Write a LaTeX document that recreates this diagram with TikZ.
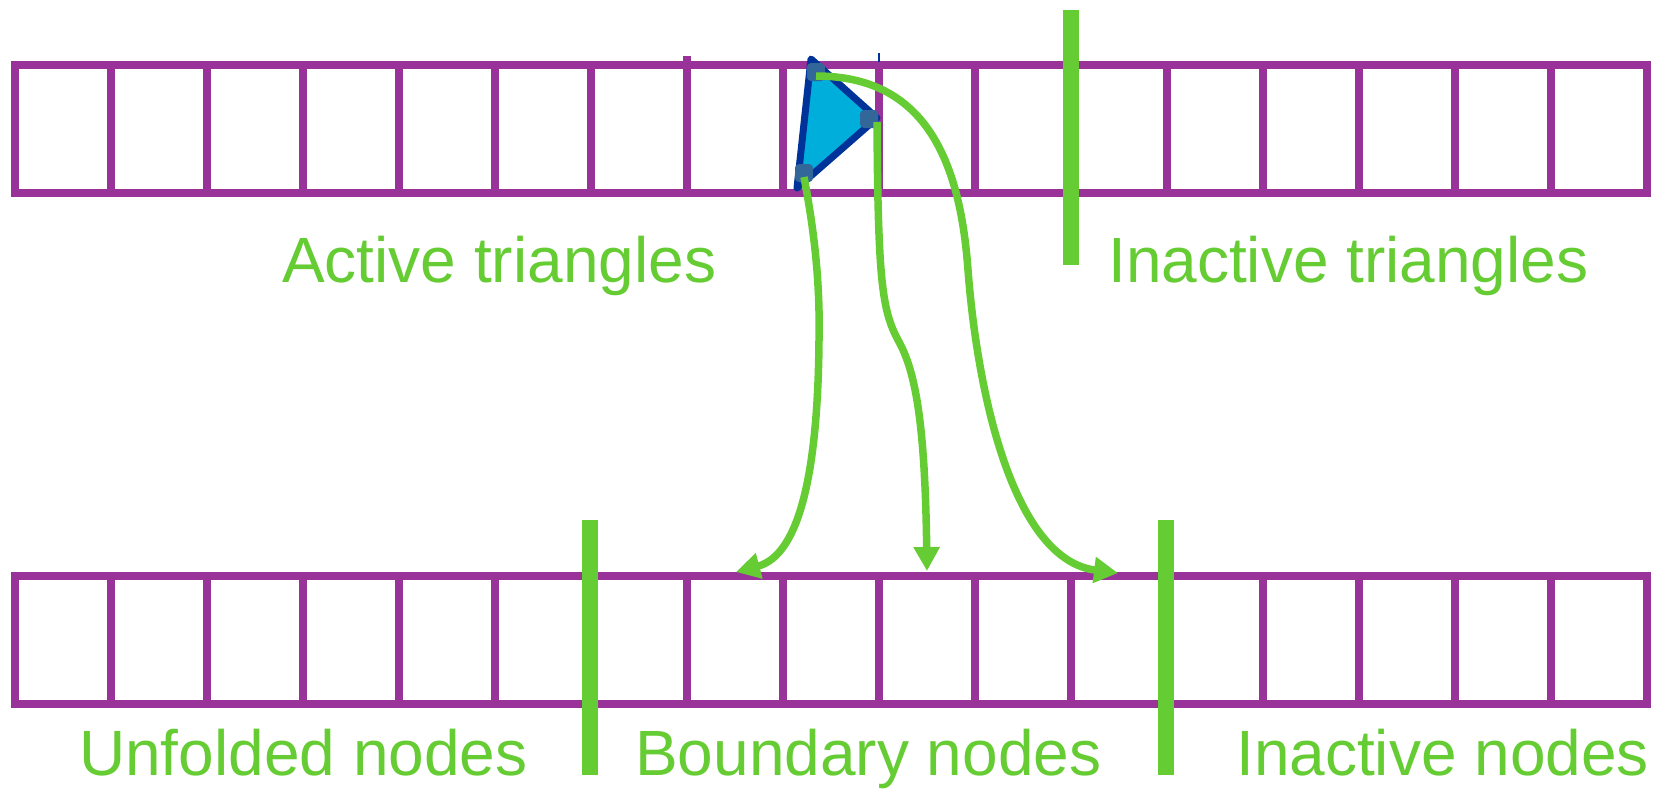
\documentclass[tikz,border=0pt]{standalone}
\usepackage{fontspec}
\setmainfont{Liberation Sans}
\usetikzlibrary{arrows.meta}
\definecolor{barpurple}{HTML}{993399}
\definecolor{lime}{HTML}{66CC33}
\definecolor{triblue}{HTML}{00AEDC}
\definecolor{tridark}{HTML}{003399}
\definecolor{vtxblue}{HTML}{336699}
\begin{document}
\begin{tikzpicture}[x=1pt,y=-1pt,
  cellbar/.style={draw=barpurple,line width=8pt,line join=miter},
  splitbar/.style={draw=lime,line width=16pt},
  lbl/.style={text=lime,font=\fontsize{64}{77}\selectfont,inner sep=0pt,anchor=base west},
  flow/.style={draw=lime,line width=7.5pt,-{Triangle[length=24pt,width=25pt]}},
  vtx/.style={fill=vtxblue,rounded corners=4pt,minimum size=18pt,inner sep=0pt}]
\useasboundingbox (0,0) rectangle (1658,788);
% top row of cells
\draw[cellbar] (15,65) rectangle (1647,193);
\foreach \i in {1,...,16} \draw[cellbar] (15+96*\i,65) -- (15+96*\i,193);
\draw[cellbar] (687,56) -- (687,65);
\draw[draw=tridark,line width=1.2pt] (879,53) -- (879,62);
% bottom row of cells
\draw[cellbar] (15,576) rectangle (1647,704);
\foreach \i in {1,...,16} \draw[cellbar] (15+96*\i,576) -- (15+96*\i,704);
% separators
\draw[splitbar] (1071,10) -- (1071,265);
\draw[splitbar] (590,520) -- (590,775);
\draw[splitbar] (1166,520) -- (1166,775);
% triangle
\filldraw[fill=triblue,draw=tridark,line width=7pt,line join=round]
  (811,59) -- (877,118) -- (797,188) -- cycle;
\node[vtx] (s1) at (816,72) {};
\node[vtx] (s2) at (869,119) {};
\node[vtx] (s3) at (804,173) {};
% targets
\coordinate (t1) at (736,572);
\coordinate (t2) at (927,571);
\coordinate (t3) at (1118,573);
% flows
\draw[flow] ([yshift=-4pt]s3.center) .. controls (816,240) and (820,290) .. (819,340)
  .. controls (818,470) and (800,555) .. (t1);
\draw[flow] ([xshift=8pt,yshift=-3pt]s2.center) .. controls (878,280) and (882,310) .. (898,340)
  .. controls (915,370) and (925,420) .. (t2);
\draw[flow] ([yshift=-4pt]s1.center) .. controls (925,76) and (960,160) .. (968,270)
  .. controls (978,400) and (1015,560) .. (t3);
% labels
\node[lbl] (la) at (282,282) {Active triangles};
\node[lbl] (li) at (1108,282) {Inactive triangles};
\node[lbl] (lu) at (79,775) {Unfolded nodes};
\node[lbl] (lb) at (635,775) {Boundary nodes};
\node[lbl] (ln) at (1236,775) {Inactive nodes};
\end{tikzpicture}
\end{document}
